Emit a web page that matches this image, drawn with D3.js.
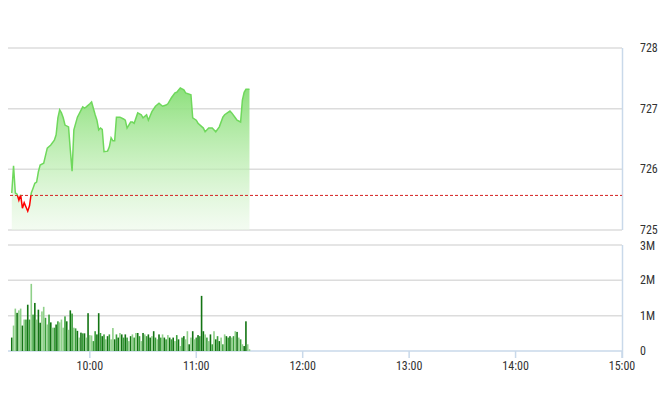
<!DOCTYPE html>
<html>
<head>
<meta charset="utf-8">
<script src="https://cdn.jsdelivr.net/npm/d3@7"></script>
<style>
html,body{margin:0;padding:0;background:#fff;}
svg{display:block;}
text{font-family:"Liberation Sans Narrow","Roboto Condensed",Roboto,sans-serif;font-size:12px;fill:#333;}
</style>
</head>
<body>
<svg id="chart" width="660" height="412"></svg>
<script>
// ---- data ----
const times = ["9:16","9:17","9:18","9:19","9:20","9:21","9:22","9:23","9:25","9:26","9:27","9:28","9:29","9:30","9:31","9:32","9:34","9:36","9:38","9:40","9:41","9:42","9:43","9:44","9:45","9:46","9:48","9:49","9:50","9:51","9:53","9:56","9:57","9:58","10:00","10:01","10:03","10:04","10:05","10:06","10:07","10:08","10:10","10:11","10:12","10:13","10:14","10:15","10:17","10:19","10:20","10:21","10:23","10:24","10:25","10:27","10:29","10:30","10:32","10:33","10:35","10:37","10:39","10:41","10:43","10:44","10:46","10:48","10:49","10:51","10:53","10:54","10:57","10:58","11:00","11:01","11:04","11:05","11:07","11:09","11:11","11:13","11:15","11:16","11:19","11:20","11:22","11:23","11:25","11:26","11:27","11:28","11:30"];
const prices = [725.61,726.06,725.61,725.59,725.49,725.58,725.36,725.45,725.31,725.40,725.61,725.69,725.77,725.79,725.96,726.07,726.10,726.35,726.40,726.48,726.57,726.85,726.98,726.93,726.85,726.73,726.70,726.32,725.97,726.65,726.86,727.03,727.01,727.03,727.08,727.11,726.90,726.81,726.65,726.68,726.66,726.29,726.30,726.37,726.52,726.47,726.47,726.86,726.86,726.83,726.81,726.68,726.78,726.78,726.76,726.93,726.90,726.85,726.90,726.81,726.95,727.04,727.09,727.04,727.06,727.08,727.18,727.26,727.27,727.34,727.31,727.26,727.23,726.85,726.81,726.76,726.68,726.62,726.68,726.68,726.62,726.70,726.86,726.90,726.96,726.93,726.85,726.81,726.78,727.14,727.27,727.32,727.32];
const refPrice = 725.57;

const volStart = "9:16"; // one bar per minute from this time
const volumes = [0.38,0.72,1.2,1.08,1.15,1.2,0.72,0.89,0.89,1.31,
0.89,1.9,1.03,1.36,0.89,1.17,0.8,1.12,1.25,0.94,
0.75,1.03,0.81,0.66,0.66,0.75,0.84,0.81,0.89,0.66,
0.98,0.84,0.6,1.15,1.06,0.66,0.64,0.57,0.38,0.52,
0.5,0.5,
0.38,1.07,0.45,0.44,0.28,0.56,0.47,1.07,0.51,0.42,
0.47,0.33,0.42,0.47,0.33,
0.65,0.33,0.47,0.38,0.51,0.47,0.38,0.47,0.38,0.28,
0.42,0.47,0.38,0.51,0.51,0.42,0.28,0.51,0.47,0.42,
0.47,0.38,0.42,0.56,0.38,0.33,0.47,0.38,0.47,0.38,
0.33,0.45,0.38,0.33,0.38,0.28,0.45,0.33,0.14,0.38,
0.42,0.33,0.56,0.19,0.38,0.56,0.33,0.38,0.45,0.42,
1.56,0.56,0.47,0.38,0.28,0.47,0.19,0.56,0.33,0.42,
0.28,0.38,0.19,0.47,0.42,0.38,0.42,0.38,0.42,0.56,
0.54,0.38,0.33,0.19,0.14,0.84,0.19,0.05];
const volShades = ["d","l","l","d","l","l","d","l","m","d",
"m","l","m","d","l","d","d","l","l","m",
"l","m","d","l","m","d","m","l","l","l",
"m","d","l","d","m","l","m","d","l","d",
"m","d",
"l","d","l","l","m","m","d","d","m","d",
"m","l","d","m","l",
"l","d","m","d","l","d","m","d","m","l",
"d","l","m","l","d","m","l","d","l","m",
"d","d","l","d","m","l","d","m","l","d",
"m","l","d","m","d","l","m","d","l","m",
"d","l","l","d","l","d","l","m","d","m",
"d","d","l","m","l","d","m","l","d","m",
"d","l","m","l","d","m","d","l","m","l",
"d","l","m","l","d","d","l","l"];

const priceTicks = [725,726,727,728];
const volTicks = [0,1,2,3];
const volTickLabels = ["0","1M","2M","3M"];
const timeTicks = ["10:00","11:00","12:00","13:00","14:00","15:00"];
const sessionStart = "9:15", sessionEnd = "15:00";

// ---- drawing ----
const parse = d3.timeParse("%H:%M");
const svg = d3.select("#chart");
const shadeColor = {d:"#137413", m:"#3a9f3a", l:"#8fd089"};

const x = d3.scaleTime().domain([parse(sessionStart), parse(sessionEnd)]).range([10, 622]);
const y = d3.scaleLinear().domain([725, 728]).range([230, 48]);
const yv = d3.scaleLinear().domain([0, 3]).range([351, 245]);

const pts = times.map((t,i)=>({t:parse(t), p:prices[i]}));

// gradient
const defs = svg.append("defs");
const grad = defs.append("linearGradient").attr("id","fillGrad")
  .attr("gradientUnits","userSpaceOnUse").attr("x1",0).attr("x2",0).attr("y1",y(727.35)).attr("y2",y(725));
grad.append("stop").attr("offset",0).attr("stop-color","#86de74").attr("stop-opacity",0.95);
grad.append("stop").attr("offset",0.55).attr("stop-color","#b8ecac").attr("stop-opacity",0.7);
grad.append("stop").attr("offset",1).attr("stop-color","#e8f8e4").attr("stop-opacity",0.5);

defs.append("clipPath").attr("id","above").append("rect")
  .attr("x",0).attr("y",0).attr("width",660).attr("height",y(refPrice));
defs.append("clipPath").attr("id","below").append("rect")
  .attr("x",0).attr("y",y(refPrice)).attr("width",660).attr("height",412-y(refPrice));

// price grid
svg.append("g").selectAll("line").data(priceTicks).join("line")
  .attr("x1",8).attr("x2",622).attr("y1",d=>y(d)).attr("y2",d=>y(d))
  .attr("stroke","#dcdcdc").attr("stroke-width",1.5);
// volume grid
svg.append("g").selectAll("line").data(volTicks).join("line")
  .attr("x1",8).attr("x2",622).attr("y1",d=>yv(d)).attr("y2",d=>yv(d))
  .attr("stroke",d=>d===0?"#c9d9ea":"#dcdcdc").attr("stroke-width",1.5);

// right border lines
svg.append("line").attr("x1",622.5).attr("x2",622.5).attr("y1",y(728)).attr("y2",y(725))
  .attr("stroke","#c9d9ea").attr("stroke-width",1.5);
svg.append("line").attr("x1",622.5).attr("x2",622.5).attr("y1",yv(3)).attr("y2",yv(0)+7)
  .attr("stroke","#c9d9ea").attr("stroke-width",1.5);

// area
const area = d3.area().x(d=>x(d.t)).y0(y(725)).y1(d=>y(d.p));
svg.append("path").datum(pts).attr("d",area).attr("fill","url(#fillGrad)");

// reference line
svg.append("line").attr("x1",10).attr("x2",622).attr("y1",y(refPrice)).attr("y2",y(refPrice))
  .attr("stroke","#d42020").attr("stroke-width",1).attr("stroke-dasharray","3,2");

// price line
const line = d3.line().x(d=>x(d.t)).y(d=>y(d.p));
svg.append("path").datum(pts).attr("d",line).attr("fill","none")
  .attr("stroke","#6fd85c").attr("stroke-width",1.5).attr("clip-path","url(#above)");
svg.append("path").datum(pts).attr("d",line).attr("fill","none")
  .attr("stroke","#ff0000").attr("stroke-width",1.5).attr("clip-path","url(#below)");

// volume bars
const v0 = parse(volStart);
const vol = volumes.map((v,i)=>({t:d3.timeMinute.offset(v0,i), v, c:volShades[i]}));
const bw = 1.6;
svg.append("g").selectAll("rect").data(vol).join("rect")
  .attr("x",d=>x(d.t)-bw/2).attr("width",bw)
  .attr("y",d=>yv(d.v)).attr("height",d=>yv(0)-yv(d.v))
  .attr("fill",d=>shadeColor[d.c]);

// time ticks
const tg = svg.append("g");
tg.selectAll("line").data(timeTicks).join("line")
  .attr("x1",d=>x(parse(d))).attr("x2",d=>x(parse(d)))
  .attr("y1",yv(0)).attr("y2",yv(0)+7)
  .attr("stroke","#c9d9ea").attr("stroke-width",1.5);
tg.selectAll("text").data(timeTicks).join("text")
  .attr("x",d=>x(parse(d))).attr("y",370).attr("text-anchor","middle").text(d=>d);

// right labels
svg.append("g").selectAll("text").data(priceTicks).join("text")
  .attr("x",640).attr("y",d=>y(d)+4).text(d=>d);
svg.append("g").selectAll("text").data(volTicks).join("text")
  .attr("x",640).attr("y",(d,i)=>yv(d)+4 + (d===3?1:0)).text((d,i)=>volTickLabels[i]);
</script>
</body>
</html>
